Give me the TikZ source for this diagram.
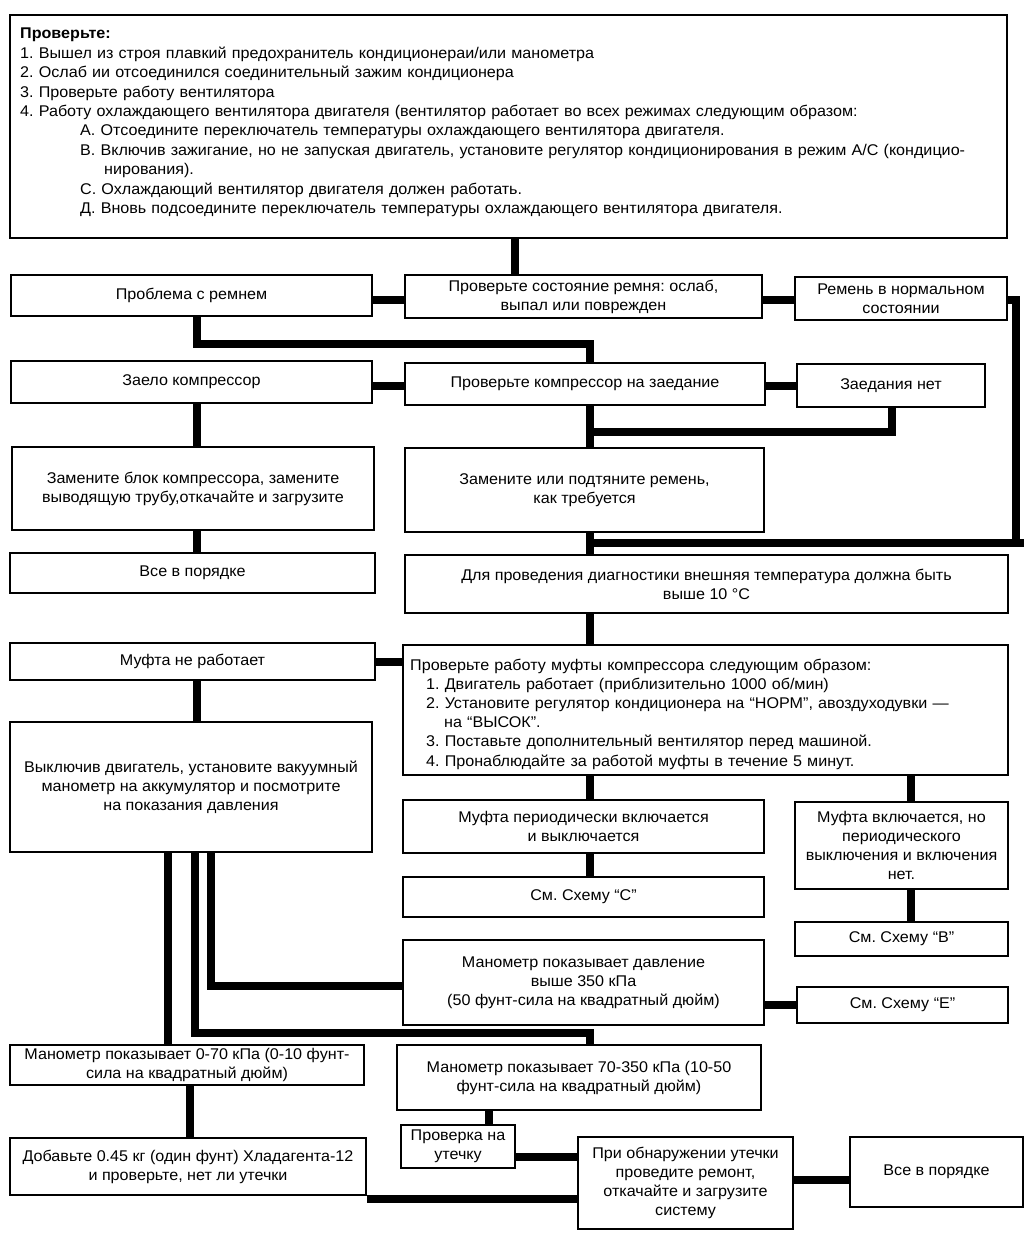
\documentclass[tikz,border=0pt]{standalone}
\usepackage{fontspec}
\setmainfont[FakeStretch=1.04]{Liberation Sans}
\begin{document}
\frenchspacing
\begin{tikzpicture}[x=1pt,y=-1pt,
  bx/.style={draw, line width=2.2pt, inner sep=0pt, align=center,
    font=\fontsize{15.5}{19}\selectfont},
  conn/.style={line width=8pt, line cap=butt, line join=miter}]
\useasboundingbox (0,0) rectangle (1024,1233);
% top box
\node[draw, line width=2.2pt, minimum width=997pt, minimum height=223pt, inner sep=0pt] (top) at (508.5,126.5) {};
\node[anchor=north west, inner sep=0pt, align=left, text width=985pt,
  font=\fontsize{15.5}{19.4}\selectfont] (toptxt) at (20,28) {%
\textbf{Проверьте:}\\
1. Вышел из строя плавкий предохранитель кондиционераи/или манометра\\
2. Ослаб ии отсоединился соединительный зажим кондиционера\\
3. Проверьте работу вентилятора\\
4. Работу охлаждающего вентилятора двигателя (вентилятор работает во всех режимах следующим образом:\\
\hspace*{60pt}А. Отсоедините переключатель температуры охлаждающего вентилятора двигателя.\\
\hspace*{60pt}В. Включив зажигание, но не запуская двигатель, установите регулятор кондиционирования в режим А/С (кондицио-\\
\hspace*{84pt}нирования).\\
\hspace*{60pt}С. Охлаждающий вентилятор двигателя должен работать.\\
\hspace*{60pt}Д. Вновь подсоедините переключатель температуры охлаждающего вентилятора двигателя.};

% row belt
\node[bx, minimum width=361pt, minimum height=41pt] (beltbad) at (191.5,295.5) {Проблема с ремнем};
\node[bx, minimum width=357pt, minimum height=43pt] (belt) at (583.5,296.5) {Проверьте состояние ремня: ослаб,\\выпал или поврежден};
\node[bx, minimum width=212pt, minimum height=43pt] (beltok) at (901,298.5) {Ремень в нормальном\\состоянии};
% row compressor
\node[bx, minimum width=361pt, minimum height=42pt] (compbad) at (191.5,382) {Заело компрессор};
\node[bx, minimum width=360pt, minimum height=42pt] (comp) at (585,384) {Проверьте компрессор на заедание};
\node[bx, minimum width=188pt, minimum height=43pt] (compok) at (891,385.5) {Заедания нет};
% replace row
\node[bx, minimum width=362pt, minimum height=83pt] (replcomp) at (193,488.5) {Замените блок компрессора, замените\\выводящую трубу,откачайте и загрузите};
\node[bx, minimum width=359pt, minimum height=84pt] (replbelt) at (584.5,490) {Замените или подтяните ремень,\\как требуется};
% ok / temp
\node[bx, minimum width=365pt, minimum height=40pt] (ok1) at (192.5,573) {Все в порядке};
\node[bx, minimum width=603pt, minimum height=58pt] (temp) at (706.5,584) {Для проведения диагностики внешняя температура должна быть\\выше 10 °С};
% clutch
\node[bx, minimum width=365pt, minimum height=37pt] (clutchbad) at (192.5,661.5) {Муфта не работает};
\node[draw, line width=2.2pt, minimum width=605pt, minimum height=130pt, inner sep=0pt] (clutch) at (705.5,710) {};
\node[anchor=north west, inner sep=0pt, align=left, text width=595pt,
  font=\fontsize{15.5}{19.1}\selectfont] (clutchtxt) at (410,659) {%
Проверьте работу муфты компрессора следующим образом:\\
\hspace*{16pt}1. Двигатель работает (приблизительно 1000 об/мин)\\
\hspace*{16pt}2. Установите регулятор кондиционера на “НОРМ”, авоздуходувки —\\
\hspace*{34pt}на “ВЫСОК”.\\
\hspace*{16pt}3. Поставьте дополнительный вентилятор перед машиной.\\
\hspace*{16pt}4. Пронаблюдайте за работой муфты в течение 5 минут.};
\node[bx, minimum width=362pt, minimum height=130pt] (vac) at (191,787) {Выключив двигатель, установите вакуумный\\манометр на аккумулятор и посмотрите\\на показания давления};
% cycling
\node[bx, minimum width=361pt, minimum height=53pt] (cyc) at (583.5,826.5) {Муфта периодически включается\\и выключается};
\node[bx, minimum width=361pt, minimum height=40pt] (schC) at (583.5,897) {См. Схему “С”};
\node[bx, minimum width=213pt, minimum height=87pt] (nocyc) at (901.5,845.5) {Муфта включается, но\\периодического\\выключения и включения\\нет.};
\node[bx, minimum width=213pt, minimum height=34pt] (schB) at (901.5,939) {См. Схему “В”};
\node[bx, minimum width=361pt, minimum height=85pt] (hi) at (583.5,982.5) {Манометр показывает давление\\выше 350 кПа\\(50 фунт-сила на квадратный дюйм)};
\node[bx, minimum width=211pt, minimum height=36pt] (schE) at (902.5,1005) {См. Схему “Е”};
% low/mid
\node[bx, minimum width=354pt, minimum height=40pt] (low) at (187,1065) {Манометр показывает 0-70 кПа (0-10 фунт-\\сила на квадратный дюйм)};
\node[bx, minimum width=364pt, minimum height=65pt] (mid) at (579,1077.5) {Манометр показывает 70-350 кПа (10-50\\фунт-сила на квадратный дюйм)};
\node[bx, minimum width=114pt, minimum height=43pt] (leak) at (458,1146.5) {Проверка на\\утечку};
\node[bx, minimum width=215pt, minimum height=92pt] (repair) at (685.5,1183) {При обнаружении утечки\\проведите ремонт,\\откачайте и загрузите\\систему};
\node[bx, minimum width=173pt, minimum height=70pt] (ok2) at (936.5,1172) {Все в порядке};
\node[bx, minimum width=356pt, minimum height=57pt] (add) at (188,1166.5) {Добавьте 0.45 кг (один фунт) Хладагента-12\\и проверьте, нет ли утечки};

% reference x coordinates
\coordinate (xa) at (515,0);
\coordinate (xb) at (590,0);
\coordinate (xl) at (197,0);
\coordinate (xr) at (911,0);
\coordinate (xe) at (1016,0);
\coordinate (xv1) at (168,0);
\coordinate (xv2) at (195,0);
\coordinate (xv3) at (211,0);
\coordinate (xk) at (892,0);
\coordinate (xm) at (489,0);
\coordinate (xd) at (190,0);

% connectors
\draw[conn] (xa |- top.south) -- (xa |- belt.north);
\coordinate (h0) at (0,300);
\draw[conn] (h0 -| beltbad.east) -- (h0 -| belt.west);
\draw[conn] (h0 -| belt.east) -- (h0 -| beltok.west);
\coordinate (j1) at (1016,543);
\coordinate (j2) at (1024,543);
\draw[conn] (h0 -| beltok.east) -- (xe |- h0) -- (j1);
\draw[conn] (xb |- j2) -- (j2);
\coordinate (h1) at (0,344);
\draw[conn] (xl |- beltbad.south) -- (xl |- h1) -- (xb |- h1) -- (xb |- comp.north);
\coordinate (hc) at (0,386);
\draw[conn] (hc -| compbad.east) -- (hc -| comp.west);
\draw[conn] (hc -| comp.east) -- (hc -| compok.west);
\coordinate (h2) at (0,432);
\draw[conn] (xk |- compok.south) -- (xk |- h2) -- (xb |- h2);
\draw[conn] (xb |- comp.south) -- (xb |- replbelt.north);
\draw[conn] (xl |- compbad.south) -- (xl |- replcomp.north);
\draw[conn] (xb |- replbelt.south) -- (xb |- temp.north);
\draw[conn] (xl |- replcomp.south) -- (xl |- ok1.north);
\draw[conn] (xb |- temp.south) -- (xb |- clutch.north);
\draw[conn] (clutchbad.east) -- (clutchbad.east -| clutch.west);
\draw[conn] (xl |- clutchbad.south) -- (xl |- vac.north);
\draw[conn] (xb |- clutch.south) -- (xb |- cyc.north);
\draw[conn] (xr |- clutch.south) -- (xr |- nocyc.north);
\draw[conn] (xb |- cyc.south) -- (xb |- schC.north);
\draw[conn] (xr |- nocyc.south) -- (xr |- schB.north);
\draw[conn] (hi.east |- schE.west) -- (schE.west);
\coordinate (h3) at (0,986);
\coordinate (h4) at (0,1033);
\draw[conn] (xv3 |- vac.south) -- (xv3 |- h3) -- (h3 -| hi.west);
\draw[conn] (xv2 |- vac.south) -- (xv2 |- h4) -- (xb |- h4) -- (xb |- mid.north);
\draw[conn] (xv1 |- vac.south) -- (xv1 |- low.north);
\draw[conn] (xd |- low.south) -- (xd |- add.north);
\draw[conn] (xm |- mid.south) -- (xm |- leak.north);
\coordinate (h5) at (0,1157);
\coordinate (h6) at (0,1180);
\coordinate (h7) at (0,1199);
\draw[conn] (h5 -| leak.east) -- (h5 -| repair.west);
\draw[conn] (h6 -| repair.east) -- (h6 -| ok2.west);
\draw[conn] (h7 -| add.east) -- (h7 -| repair.west);
\end{tikzpicture}
\end{document}
